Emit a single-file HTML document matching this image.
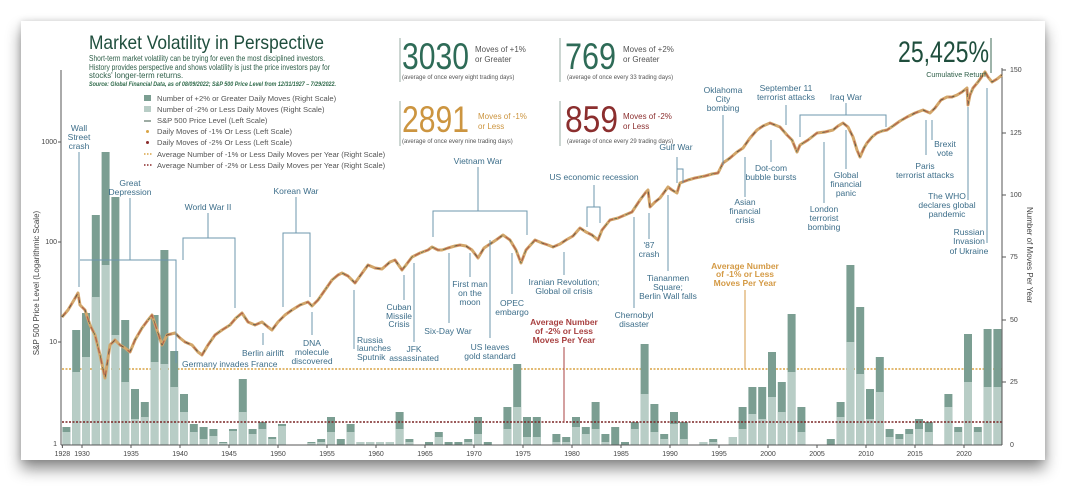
<!DOCTYPE html>
<html><head><meta charset="utf-8"><style>
html,body{margin:0;padding:0;background:#fff;width:1084px;height:502px;overflow:hidden}
.card{position:absolute;left:21px;top:21px;width:1024px;height:439px;background:#fff;box-shadow:0 9px 14px rgba(0,0,0,.45),0 0 6px rgba(0,0,0,.15)}
svg{position:absolute;left:0;top:0}
text{font-family:"Liberation Sans",sans-serif}
.a{font-size:8.5px;fill:#3d6e8a;text-anchor:middle}
.l{stroke:#6d97ad;stroke-width:1;fill:none}
.tk{font-size:7px;fill:#444}
.lg{font-size:7.6px;fill:#555}
</style></head><body>
<div class="card"></div>
<svg width="1084" height="502" viewBox="0 0 1084 502">
<line x1="62" y1="369" x2="1002" y2="369" stroke="#d9a445" stroke-width="1.6" stroke-dasharray="2,1.5"/>
<g id="bars"></g>
<line x1="62" y1="422" x2="1002" y2="422" stroke="#7a2525" stroke-width="1.6" stroke-dasharray="2,1.5"/>
<line x1="61" y1="70" x2="61" y2="445" stroke="#555" stroke-width="1"/>
<line x1="61" y1="445" x2="1002" y2="445" stroke="#555" stroke-width="1"/>
<line x1="1002" y1="68" x2="1002" y2="445" stroke="#555" stroke-width="1"/>
<g class="tk" text-anchor="end">
<text x="57" y="144">1000</text><text x="57" y="244">100</text><text x="57" y="344">10</text><text x="57" y="446">1</text>
</g>
<g stroke="#555"><line x1="58" y1="142" x2="61" y2="142"/><line x1="58" y1="242" x2="61" y2="242"/><line x1="58" y1="342" x2="61" y2="342"/></g>
<g class="tk">
<text x="1010" y="72">150</text><text x="1010" y="135">125</text><text x="1010" y="197">100</text><text x="1010" y="259">75</text><text x="1010" y="322">50</text><text x="1010" y="384">25</text><text x="1010" y="447">0</text>
</g>
<g stroke="#555"><line x1="1002" y1="70" x2="1006" y2="70"/><line x1="1002" y1="133" x2="1006" y2="133"/><line x1="1002" y1="195" x2="1006" y2="195"/><line x1="1002" y1="257" x2="1006" y2="257"/><line x1="1002" y1="320" x2="1006" y2="320"/><line x1="1002" y1="382" x2="1006" y2="382"/></g>
<text transform="translate(1027,255) rotate(90)" text-anchor="middle" style="font-size:8px;fill:#444">Number of Moves Per Year</text>
<text transform="translate(39,283) rotate(-90)" text-anchor="middle" style="font-size:8px;fill:#444">S&amp;P 500 Price Level (Logarithmic Scale)</text>
<g class="tk" text-anchor="middle" id="yrs"></g>

<polyline id="pl" fill="none" stroke="#d2a66a" stroke-width="3" stroke-linejoin="round"/>
<polyline id="pl2" fill="none" stroke="#b1654b" stroke-width="1.3" stroke-linejoin="round" stroke-dasharray="6,5"/>
<polyline id="pl3" fill="none" stroke="#3e5a48" stroke-width="0.6" stroke-linejoin="round" stroke-dasharray="3,9"/>

<text x="89" y="49" style="font-size:19.5px;fill:#1f4e3d" textLength="235" lengthAdjust="spacingAndGlyphs">Market Volatility in Perspective</text>
<g style="font-size:7.8px;fill:#2f5f49">
<text x="89" y="61" textLength="236" lengthAdjust="spacingAndGlyphs">Short-term market volatility can be trying for even the most disciplined investors.</text>
<text x="89" y="70" textLength="241" lengthAdjust="spacingAndGlyphs">History provides perspective and shows volatility is just the price investors pay for</text>
<text x="89" y="78">stocks' longer-term returns.</text>
</g>
<text x="89" y="86" style="font-size:6.4px;fill:#2f6a4a;font-style:italic;font-weight:bold" textLength="247" lengthAdjust="spacingAndGlyphs">Source: Global Financial Data, as of 08/09/2022; S&amp;P 500 Price Level from 12/31/1927 – 7/29/2022.</text>
<rect x="144" y="95" width="7" height="6" fill="#7b9e92"/>
<rect x="144" y="106" width="7" height="6" fill="#b8cdc6"/>
<line x1="144" y1="121" x2="151" y2="121" stroke="#3e5a48"/>
<circle cx="147.5" cy="131.5" r="1.5" fill="#d9a445"/>
<circle cx="147.5" cy="142.5" r="1.5" fill="#8a2a2a"/>
<line x1="144" y1="154" x2="152" y2="154" stroke="#d9a445" stroke-width="1.5" stroke-dasharray="1.5,1.5"/>
<line x1="144" y1="165" x2="152" y2="165" stroke="#8a2a2a" stroke-width="1.5" stroke-dasharray="1.5,1.5"/>
<g class="lg">
<text x="157" y="101">Number of +2% or Greater Daily Moves (Right Scale)</text>
<text x="157" y="112">Number of -2% or Less Daily Moves (Right Scale)</text>
<text x="157" y="123">S&amp;P 500 Price Level (Left Scale)</text>
<text x="157" y="134">Daily Moves of -1% Or Less (Left Scale)</text>
<text x="157" y="145">Daily Moves of -2% Or Less (Left Scale)</text>
<text x="157" y="157">Average Number of -1% or Less Daily Moves per Year (Right Scale)</text>
<text x="157" y="168">Average Number of -2% or Less Daily Moves per Year (Right Scale)</text>
</g>
<g stroke="#9aaea6" stroke-width="1"><line x1="400" y1="38" x2="400" y2="82"/><line x1="560" y1="38" x2="560" y2="82"/><line x1="400" y1="101" x2="400" y2="146"/><line x1="560" y1="101" x2="560" y2="146"/></g>
<text x="402" y="69" style="font-size:37px;fill:#2e6b57" textLength="67" lengthAdjust="spacingAndGlyphs">3030</text>
<text x="475" y="52" style="font-size:8px;fill:#555">Moves of +1%</text><text x="475" y="62" style="font-size:8px;fill:#555">or Greater</text>
<text x="402" y="79" style="font-size:6px;fill:#555">(average of once every eight trading days)</text>
<text x="565" y="69" style="font-size:37px;fill:#2e6b57" textLength="51" lengthAdjust="spacingAndGlyphs">769</text>
<text x="623" y="52" style="font-size:8px;fill:#555">Moves of +2%</text><text x="623" y="62" style="font-size:8px;fill:#555">or Greater</text>
<text x="567" y="79" style="font-size:6px;fill:#555">(average of once every 33 trading days)</text>
<text x="402" y="132" style="font-size:37px;fill:#cc9540" textLength="67" lengthAdjust="spacingAndGlyphs">2891</text>
<text x="478" y="119" style="font-size:8px;fill:#cc9540">Moves of -1%</text><text x="478" y="129" style="font-size:8px;fill:#cc9540">or Less</text>
<text x="402" y="143" style="font-size:6px;fill:#555">(average of once every nine trading days)</text>
<text x="565" y="132" style="font-size:37px;fill:#8b2e2e" textLength="53" lengthAdjust="spacingAndGlyphs">859</text>
<text x="623" y="119" style="font-size:8px;fill:#8b2e2e">Moves of -2%</text><text x="623" y="129" style="font-size:8px;fill:#8b2e2e">or Less</text>
<text x="567" y="143" style="font-size:6px;fill:#555">(average of once every 29 trading days)</text>
<text x="898" y="62" style="font-size:30px;fill:#1f4e3d" textLength="91" lengthAdjust="spacingAndGlyphs">25,425%</text>
<text x="956" y="77" style="font-size:7.2px;fill:#2f5f49" text-anchor="middle">Cumulative Return</text>
<line x1="991" y1="38" x2="991" y2="73" stroke="#3e6a56"/>

<g class="l">
<path d="M79 152V287"/><path d="M130 198V260M80 260H176V363"/>
<path d="M208 213V238M183 260V238H235V308"/>
<path d="M296 197V233M283 307V233H310V297"/>
<path d="M263 333V345"/><path d="M312 312V335"/><path d="M354 290V349"/><path d="M404 275V300"/><path d="M414 263V342"/><path d="M449 253V323"/><path d="M470 253V277"/><path d="M490 240V338"/><path d="M512 253V294"/>
<path d="M478 167V211M433 237V211H527V235"/>
<path d="M594 185V207M587 227V207H600V223"/>
<path d="M677 157V169M677 183V169H683V183"/>
<path d="M564 252V275"/><path d="M634 217V308"/><path d="M649 213V239"/><path d="M668 195V271"/>
<path d="M745 157V197"/><path d="M771 140V162"/><path d="M824 142V203"/><path d="M846 130V169"/>
<path d="M926 120V155"/><path d="M932 120V140"/><path d="M968 107V200"/><path d="M987 88V243"/>
<path d="M723 115V165"/><path d="M786 105V125"/><path d="M846 103V115M800 137V115H886V127"/>
</g>
<g class="a">
<text x="79" y="131">Wall</text><text x="79" y="140">Street</text><text x="79" y="149">crash</text>
<text x="130" y="186">Great</text><text x="130" y="195">Depression</text>
<text x="182" y="367" text-anchor="start">Germany invades France</text>
<text x="208" y="210">World War II</text>
<text x="296" y="194">Korean War</text>
<text x="263" y="356">Berlin airlift</text>
<text x="312" y="346">DNA</text><text x="312" y="355">molecule</text><text x="312" y="364">discovered</text>
<text x="357" y="343" text-anchor="start">Russia</text><text x="357" y="351" text-anchor="start">launches</text><text x="357" y="360" text-anchor="start">Sputnik</text>
<text x="399" y="310">Cuban</text><text x="399" y="319">Missile</text><text x="399" y="327">Crisis</text>
<text x="414" y="352">JFK</text><text x="414" y="361">assassinated</text>
<text x="448" y="334">Six-Day War</text>
<text x="470" y="287">First man</text><text x="470" y="296">on the</text><text x="470" y="305">moon</text>
<text x="490" y="350">US leaves</text><text x="490" y="359">gold standard</text>
<text x="512" y="306">OPEC</text><text x="512" y="315">embargo</text>
<text x="478" y="164">Vietnam War</text>
<text x="594" y="180">US economic recession</text>
<text x="676" y="150">Gulf War</text>
<text x="564" y="285">Iranian Revolution;</text><text x="564" y="294">Global oil crisis</text>
<text x="634" y="318">Chernobyl</text><text x="634" y="327">disaster</text>
<text x="649" y="248">'87</text><text x="649" y="257">crash</text>
<text x="668" y="281">Tiananmen</text><text x="668" y="290">Square;</text><text x="668" y="299">Berlin Wall falls</text>
<text x="745" y="205">Asian</text><text x="745" y="214">financial</text><text x="745" y="223">crisis</text>
<text x="771" y="171">Dot-com</text><text x="771" y="180">bubble bursts</text>
<text x="824" y="212">London</text><text x="824" y="221">terrorist</text><text x="824" y="230">bombing</text>
<text x="846" y="178">Global</text><text x="846" y="187">financial</text><text x="846" y="196">panic</text>
<text x="925" y="169">Paris</text><text x="925" y="178">terrorist attacks</text>
<text x="945" y="147">Brexit</text><text x="945" y="156">vote</text>
<text x="947" y="199">The WHO</text><text x="947" y="208">declares global</text><text x="947" y="217">pandemic</text>
<text x="969" y="235">Russian</text><text x="969" y="244">Invasion</text><text x="969" y="254">of Ukraine</text>
<text x="723" y="93">Oklahoma</text><text x="723" y="102">City</text><text x="723" y="111">bombing</text>
<text x="786" y="91">September 11</text><text x="786" y="100">terrorist attacks</text>
<text x="846" y="100">Iraq War</text>
</g>
<g style="font-size:8.5px;font-weight:bold;fill:#a84040" text-anchor="middle">
<text x="564" y="325">Average Number</text><text x="564" y="334">of -2% or Less</text><text x="564" y="343">Moves Per Year</text>
</g>
<line x1="564" y1="347" x2="564" y2="422" stroke="#a84040"/>
<g style="font-size:8.5px;font-weight:bold;fill:#d49a45" text-anchor="middle">
<text x="745" y="269">Average Number</text><text x="745" y="277">of -1% or Less</text><text x="745" y="286">Moves Per Year</text>
</g>
<line x1="745" y1="290" x2="745" y2="369" stroke="#d49a45"/>
</svg>
<script>
var ns="http://www.w3.org/2000/svg";
function X(y){return 82+(y-1930)*9.8;}
var B={1928:[427,432],1929:[330,372],1930:[313,357],1931:[215,297],1932:[152,265],1933:[197,335],1934:[320,382],1935:[389,419],1936:[402,417],1937:[315,362],1938:[250,364],1939:[351,387],1940:[394,412],1941:[424,432],1942:[427,439],1943:[429,436],1944:[442,443],1945:[429,431],1946:[379,412],1947:[429,434],1948:[422,429],1949:[437,439],1950:[424,426],1953:[442,443],1954:[439,442],1955:[417,432],1956:[439,445],1957:[424,432],1958:[442,442],1959:[442,442],1960:[442,442],1961:[442,442],1962:[412,429],1963:[439,442],1965:[442,445],1966:[432,437],1967:[442,445],1968:[442,445],1969:[439,442],1970:[417,434],1971:[442,445],1973:[407,429],1974:[364,407],1975:[417,437],1976:[417,437],1978:[434,442],1979:[437,442],1980:[417,427],1981:[427,434],1982:[402,429],1983:[434,442],1984:[427,445],1985:[442,445],1986:[422,429],1987:[344,394],1988:[404,432],1989:[434,439],1990:[412,424],1991:[422,439],1993:[442,442],1994:[439,442],1996:[437,437],1997:[407,429],1998:[387,414],1999:[387,419],2000:[352,397],2001:[382,412],2002:[314,372],2003:[407,432],2006:[439,445],2007:[402,417],2008:[265,342],2009:[307,374],2010:[389,419],2011:[357,392],2012:[429,437],2013:[434,439],2014:[429,434],2015:[419,429],2016:[422,432],2018:[394,407],2019:[427,432],2020:[334,382],2021:[427,432],2022:[329,387],2023:[329,387]};
var g=document.getElementById("bars");
for(var k in B){var x=X(+k),t=B[k][0],l=B[k][1];
var r=document.createElementNS(ns,"rect");r.setAttribute("x",x);r.setAttribute("y",t);r.setAttribute("width",8);r.setAttribute("height",445-t);r.setAttribute("fill","#7b9e92");g.appendChild(r);
if(l<445){var r2=document.createElementNS(ns,"rect");r2.setAttribute("x",x);r2.setAttribute("y",l);r2.setAttribute("width",8);r2.setAttribute("height",445-l);r2.setAttribute("fill","#b8cdc6");g.appendChild(r2);}}
var yg=document.getElementById("yrs");
var ys=[1928];for(var y=1930;y<=2020;y+=5)ys.push(y);
ys.forEach(function(y){var t=document.createElementNS(ns,"text");t.setAttribute("x",X(y));t.setAttribute("y",456);t.textContent=y;yg.appendChild(t);
var ln=document.createElementNS(ns,"line");ln.setAttribute("x1",X(y));ln.setAttribute("x2",X(y));ln.setAttribute("y1",445);ln.setAttribute("y2",448);ln.setAttribute("stroke","#555");yg.appendChild(ln);});
var P="62,317 68,310 74,300 78,293 80,305 85,310 90,325 95,335 100,355 105,378 110,345 115,340 120,345 125,348 130,352 135,340 142,328 148,320 152,315 157,330 162,345 167,335 175,333 180,338 185,342 192,345 198,352 202,355 208,345 215,335 222,330 230,325 236,318 242,313 248,322 255,325 262,322 268,327 272,330 278,322 285,315 292,310 300,305 308,302 312,306 318,300 325,290 332,280 338,275 342,273 348,276 355,283 360,276 368,265 375,268 382,269 390,262 395,260 402,270 406,265 412,257 420,253 428,250 432,247 438,250 442,250 448,248 455,246 460,245 466,246 472,250 478,258 484,248 490,244 496,240 503,235 510,240 516,250 521,263 526,250 535,240 542,243 548,245 553,247 560,244 566,240 573,236 580,228 586,232 592,235 598,240 602,230 610,220 618,218 625,215 632,212 640,200 646,192 648,190 650,207 655,202 660,198 668,187 672,190 677,193 680,183 688,180 695,178 705,176 712,174 718,173 723,163 730,158 737,152 743,148 750,138 757,130 763,126 770,123 775,125 780,127 787,135 792,140 797,152 800,145 808,140 817,133 825,132 833,130 838,126 843,123 848,127 853,137 857,150 860,157 864,148 867,143 872,137 877,133 882,131 887,130 893,126 900,121 907,117 915,113 923,110 930,113 935,108 941,100 947,97 952,97 957,95 962,92 967,88 968,105 970,95 973,88 978,82 985,72 988,77 992,82 997,79 1002,75";
["pl","pl2","pl3"].forEach(function(i){document.getElementById(i).setAttribute("points",P);});
</script>
</body></html>
